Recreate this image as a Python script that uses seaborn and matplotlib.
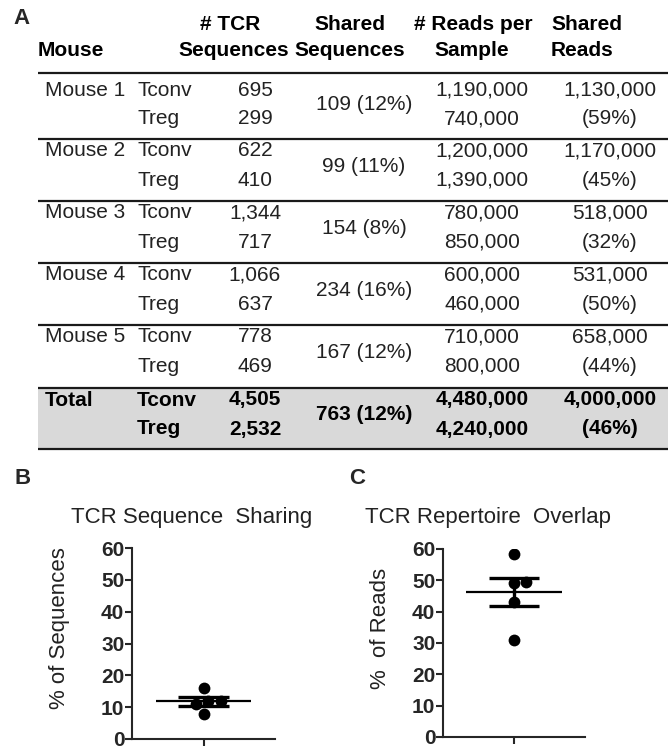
import numpy as np
import matplotlib
matplotlib.use("Agg")
import matplotlib.pyplot as plt
import seaborn as sns

# ---- table data (panel A) ----
mice = ["Mouse 1", "Mouse 2", "Mouse 3", "Mouse 4", "Mouse 5"]
cell_types = ["Tconv", "Treg"]
tcr_tconv = ["695", "622", "1,344", "1,066", "778"]
tcr_treg = ["299", "410", "717", "637", "469"]
shared_seqs = ["109 (12%)", "99 (11%)", "154 (8%)", "234 (16%)", "167 (12%)"]
reads_tconv = ["1,190,000", "1,200,000", "780,000", "600,000", "710,000"]
reads_treg = ["740,000", "1,390,000", "850,000", "460,000", "800,000"]
shared_reads = ["1,130,000", "1,170,000", "518,000", "531,000", "658,000"]
shared_reads_pct = ["(59%)", "(45%)", "(32%)", "(50%)", "(44%)"]
total_row = ["Total", "4,505", "2,532", "763 (12%)", "4,480,000", "4,240,000", "4,000,000", "(46%)"]

# ---- scatter data (panels B, C) ----
seq_sharing = [12, 11, 8, 16, 12]
read_overlap = [58.5, 49, 49.5, 43, 31]

FONT = ["Liberation Sans", "DejaVu Sans"]

sns.set_theme(style="ticks")
plt.rcParams["font.family"] = FONT
plt.rcParams["axes.linewidth"] = 1.5

W, H = 668, 749
fig = plt.figure(figsize=(W / 100, H / 100), dpi=100)

# overlay axes in pixel coordinates for the table and labels
ax_t = fig.add_axes([0, 0, 1, 1])
ax_t.set_xlim(0, W)
ax_t.set_ylim(H, 0)
ax_t.axis("off")

txt = "#222222"
fs = 15

ax_t.text(22, 18, "A", fontsize=16, fontweight="bold", ha="center", va="center")

# header
hdr = dict(fontsize=fs, fontweight="bold", va="center", color="black")
ax_t.text(38, 50, "Mouse", ha="left", **hdr)
ax_t.text(230, 24, "# TCR", ha="center", **hdr)
ax_t.text(234, 50, "Sequences", ha="center", **hdr)
ax_t.text(350, 24, "Shared", ha="center", **hdr)
ax_t.text(350, 50, "Sequences", ha="center", **hdr)
ax_t.text(473, 24, "# Reads per", ha="center", **hdr)
ax_t.text(472, 50, "Sample", ha="center", **hdr)
ax_t.text(587, 24, "Shared", ha="center", **hdr)
ax_t.text(582, 50, "Reads", ha="center", **hdr)

lines_y = [73, 139, 201, 263, 325, 388, 449]
anchors = [78, 139, 201, 263, 325, 388]
x_left, x_right = 38, W

# grey background for total row
ax_t.fill_between([x_left, x_right], lines_y[5], lines_y[6], color="#d9d9d9", lw=0, zorder=0)

for y in lines_y:
    ax_t.plot([x_left, x_right], [y, y], color="#1a1a1a", lw=1.6, solid_capstyle="butt")


def draw_group(top, cols, bold=False):
    kw = dict(fontsize=fs, va="center", color="black" if bold else txt,
              fontweight="bold" if bold else "normal")
    y1, y2, ym = top + 12, top + 41, top + 27
    ax_t.text(45, y1, cols[0], ha="left", **kw)
    ax_t.text(137, y1, cell_types[0], ha="left", **kw)
    ax_t.text(137, y2, cell_types[1], ha="left", **kw)
    ax_t.text(255, y1, cols[1], ha="center", **kw)
    ax_t.text(255, y2, cols[2], ha="center", **kw)
    ax_t.text(364, ym, cols[3], ha="center", **kw)
    ax_t.text(482, y1, cols[4], ha="center", **kw)
    ax_t.text(482, y2, cols[5], ha="center", **kw)
    ax_t.text(610, y1, cols[6], ha="center", **kw)
    ax_t.text(610, y2, cols[7], ha="center", **kw)


for i in range(len(mice)):
    draw_group(anchors[i], [mice[i], tcr_tconv[i], tcr_treg[i], shared_seqs[i],
                            reads_tconv[i], reads_treg[i], shared_reads[i], shared_reads_pct[i]])
draw_group(anchors[5], total_row, bold=True)

# panel letters and titles
ax_t.text(23, 479, "B", fontsize=16, fontweight="bold", ha="center", va="center")
ax_t.text(357, 478, "C", fontsize=16, fontweight="bold", ha="center", va="center")
ax_t.text(192, 517, "TCR Sequence  Sharing", fontsize=16, ha="center", va="center", color=txt)
ax_t.text(488, 518, "TCR Repertoire  Overlap", fontsize=16, ha="center", va="center", color=txt)


def dot_panel(rect, values, ylabel, label_x):
    ax = fig.add_axes(rect)
    ax.set_xlim(-0.5, 0.5)
    ax.set_ylim(0, 60)
    sns.swarmplot(y=values, ax=ax, color="black", size=8.5, zorder=2)
    ax.set_xlim(-0.5, 0.5)
    ax.set_ylim(0, 60)
    vals = np.asarray(values, dtype=float)
    m = vals.mean()
    se = vals.std(ddof=1) / np.sqrt(len(vals))
    ax.hlines(m, -0.335, 0.335, color="black", lw=1.6, zorder=3)
    ax.hlines([m - se, m + se], -0.175, 0.175, color="black", lw=2.4, zorder=3)
    ax.vlines(0, m - se, m + se, color="black", lw=2.4, zorder=3)
    ax.set_yticks(np.arange(0, 61, 10))
    ax.set_xticks([0])
    ax.set_xticklabels([""])
    ax.tick_params(axis="y", length=5, width=1.5, pad=0.5, labelsize=15, direction="out")
    ax.tick_params(axis="x", length=5, width=1.5, direction="out")
    for lab in ax.get_yticklabels():
        lab.set_fontweight("bold")
    sns.despine(ax=ax)
    ax.set_ylabel(ylabel, fontsize=16, color=txt)
    ax.yaxis.set_label_coords(label_x, 0.58)
    ax.set_facecolor("none")
    return ax


dot_panel([132 / W, (H - 739) / H, 143 / W, 191 / H], seq_sharing, "% of Sequences", -0.434)
dot_panel([443 / W, (H - 737) / H, 142 / W, 188 / H], read_overlap, "%  of Reads", -0.366)

fig.savefig("out.png", dpi=100)
